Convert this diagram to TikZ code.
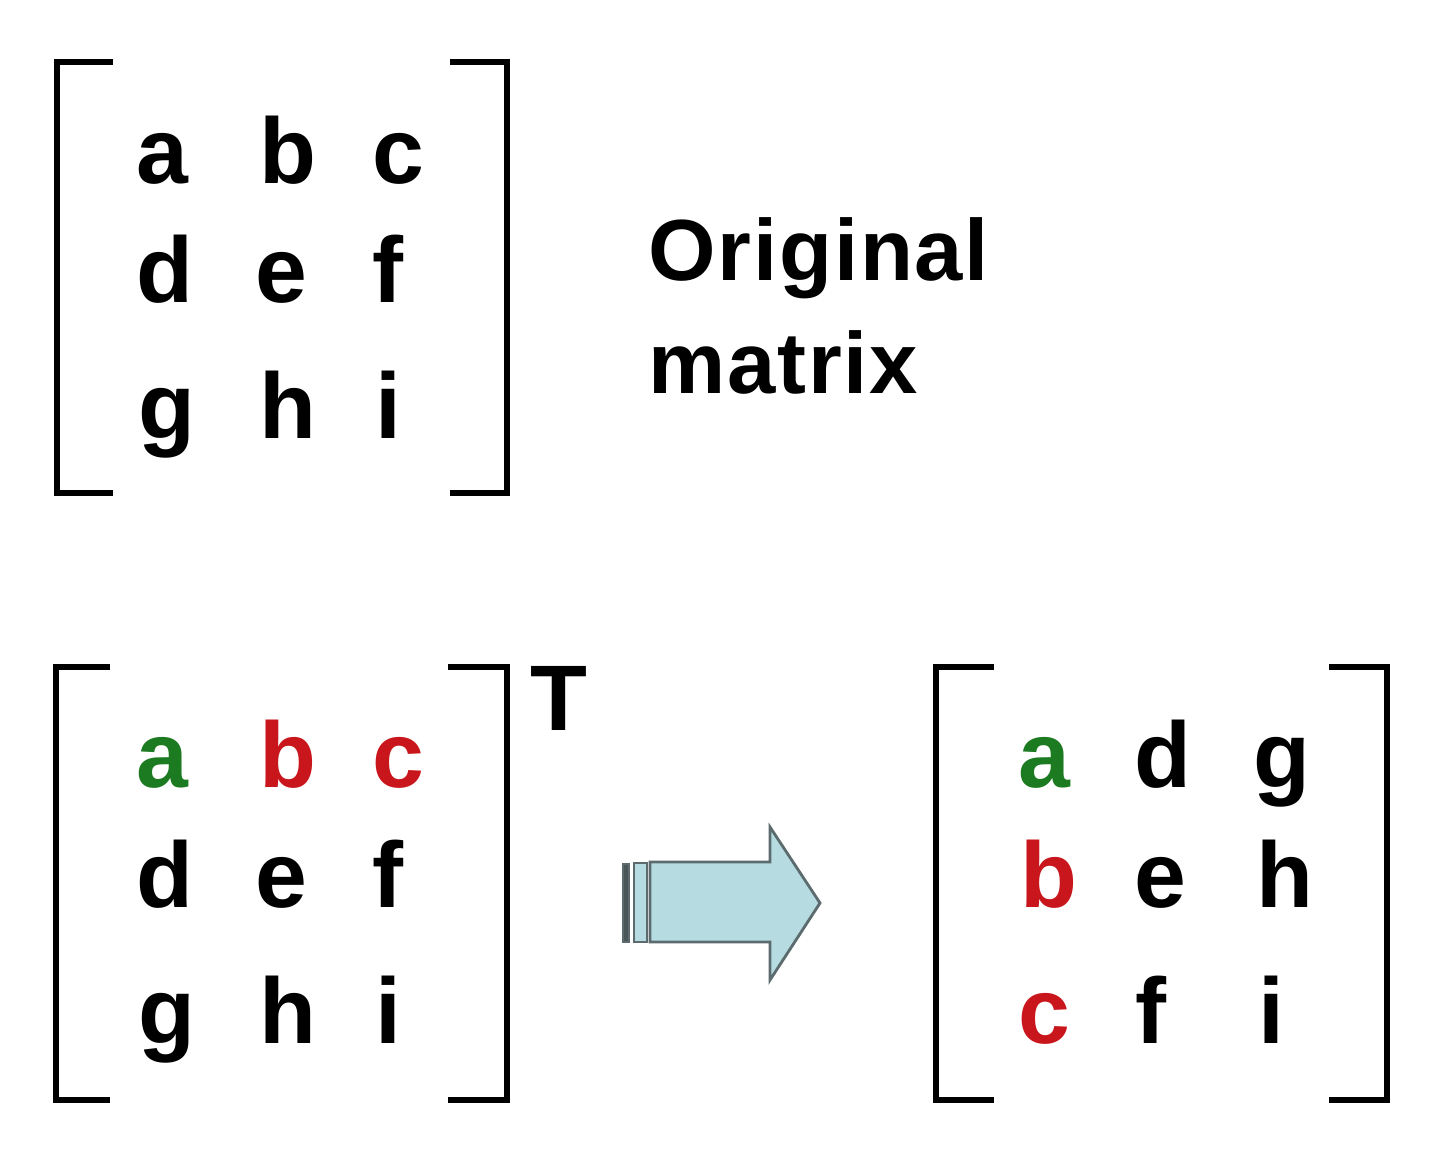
\documentclass[tikz,border=0pt]{standalone}
\usepackage{fontspec}
\setmainfont{Liberation Sans}
\newfontfamily\captionfont[LetterSpace=2.0]{Liberation Sans}
\definecolor{leadgreen}{RGB}{28,122,32}
\definecolor{leadred}{RGB}{200,22,28}
\definecolor{arrowfill}{RGB}{182,220,226}
\definecolor{arrowedge}{RGB}{92,108,110}
\tikzset{
  bracket/.style={line width=1.55pt},
  letter/.style={font=\fontsize{26.5}{30}\selectfont\bfseries, inner sep=0pt, anchor=base west},
  caption/.style={font=\captionfont\fontsize{24.7}{30}\selectfont\bfseries, inner sep=0pt, anchor=base west},
  arrowpart/.style={fill=arrowfill, draw=arrowedge, line width=0.8pt, line join=miter}
}
\begin{document}
\begin{tikzpicture}
      \useasboundingbox (0,0) rectangle (14.4,-11.62);
      % original matrix
      \draw[bracket] (1.13,-0.62) -- (0.57,-0.62) -- (0.57,-4.93) -- (1.13,-4.93);
      \draw[bracket] (4.50,-0.62) -- (5.07,-0.62) -- (5.07,-4.93) -- (4.50,-4.93);
      \node[letter] (oa) at (1.36,-1.83) {a};
      \node[letter] (ob) at (2.59,-1.83) {b};
      \node[letter] (oc) at (3.72,-1.83) {c};
      \node[letter] (od) at (1.36,-3.02) {d};
      \node[letter] (oe) at (2.55,-3.02) {e};
      \node[letter] (of) at (3.72,-3.02) {f};
      \node[letter] (og) at (1.38,-4.38) {g};
      \node[letter] (oh) at (2.59,-4.38) {h};
      \node[letter] (oi) at (3.75,-4.38) {i};
      \node[caption] (orig) at (6.48,-2.80) {Original};
      \node[caption] (mat) at (6.48,-3.93) {matrix};
      % matrix to transpose
      \draw[bracket] (1.10,-6.67) -- (0.56,-6.67) -- (0.56,-11.00) -- (1.10,-11.00);
      \draw[bracket] (4.48,-6.67) -- (5.07,-6.67) -- (5.07,-11.00) -- (4.48,-11.00);
      \node[letter, color=leadgreen] (ta) at (1.36,-7.87) {a};
      \node[letter, color=leadred] (tb) at (2.59,-7.87) {b};
      \node[letter, color=leadred] (tc) at (3.72,-7.87) {c};
      \node[letter] (td) at (1.36,-9.07) {d};
      \node[letter] (te) at (2.55,-9.07) {e};
      \node[letter] (tf) at (3.72,-9.07) {f};
      \node[letter] (tg) at (1.38,-10.43) {g};
      \node[letter] (th) at (2.59,-10.43) {h};
      \node[letter] (ti) at (3.75,-10.43) {i};
      \node[letter] (sup) at (5.30,-7.30) {T};
      % arrow
      \draw[fill=arrowedge!80!black, draw=arrowedge] (6.23,-8.64) rectangle (6.29,-9.42);
      \draw[arrowpart] (6.34,-8.63) rectangle (6.47,-9.42);
      \draw[arrowpart] (6.50,-8.62) -- (7.70,-8.62) -- (7.70,-8.27) -- (8.20,-9.03)
            -- (7.70,-9.80) -- (7.70,-9.42) -- (6.50,-9.42) -- cycle;
      % transposed matrix
      \draw[bracket] (9.94,-6.67) -- (9.36,-6.67) -- (9.36,-11.00) -- (9.94,-11.00);
      \draw[bracket] (13.29,-6.67) -- (13.87,-6.67) -- (13.87,-11.00) -- (13.29,-11.00);
      \node[letter, color=leadgreen] (ra) at (10.18,-7.87) {a};
      \node[letter] (rd) at (11.34,-7.87) {d};
      \node[letter] (rg) at (12.53,-7.87) {g};
      \node[letter, color=leadred] (rb) at (10.20,-9.07) {b};
      \node[letter] (re) at (11.34,-9.07) {e};
      \node[letter] (rh) at (12.56,-9.07) {h};
      \node[letter, color=leadred] (rc) at (10.18,-10.43) {c};
      \node[letter] (rf) at (11.35,-10.43) {f};
      \node[letter] (ri) at (12.58,-10.43) {i};
\end{tikzpicture}
\end{document}
